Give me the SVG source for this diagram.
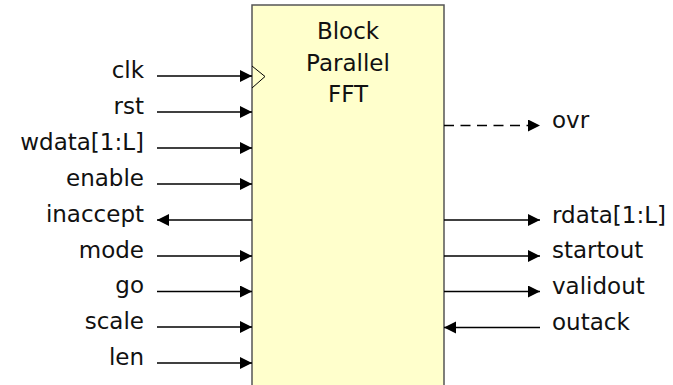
<svg xmlns="http://www.w3.org/2000/svg" width="673" height="385" viewBox="0 0 673 385">
<defs>
<style>
text{font-family:"DejaVu Sans","Liberation Sans",sans-serif;font-size:23px;fill:#111}
.l{text-anchor:end}
.c{text-anchor:middle}
.w{stroke:#000;stroke-width:1.5;fill:none}
.d{stroke-dasharray:10,6.5}
</style>
<marker id="ah" markerUnits="userSpaceOnUse" markerWidth="13" markerHeight="13" refX="12" refY="6" orient="auto">
<path d="M0,0 L12,6 L0,12 z" fill="#000"/>
</marker>
</defs>
<g id="block">
<rect x="252" y="5" width="192" height="395" fill="#FFFFCC" stroke="#555" stroke-width="1.5"/>
<polyline points="252,66 265,76.5 252,88" fill="none" stroke="#000" stroke-width="1"/>
<text class="c" x="348" y="39">Block</text>
<text class="c" x="348" y="71">Parallel</text>
<text class="c" x="348" y="102">FFT</text>
</g>
<g id="labels">
<text class="l" x="144" y="78">clk</text>
<text class="l" x="144" y="114">rst</text>
<text class="l" x="144" y="150">wdata[1:L]</text>
<text class="l" x="144" y="186">enable</text>
<text class="l" x="144" y="222">inaccept</text>
<text class="l" x="144" y="258">mode</text>
<text class="l" x="144" y="293">go</text>
<text class="l" x="144" y="329">scale</text>
<text class="l" x="144" y="365">len</text>
<text x="552" y="128">ovr</text>
<text x="552" y="223">rdata[1:L]</text>
<text x="552" y="258">startout</text>
<text x="552" y="294">validout</text>
<text x="552" y="330">outack</text>
</g>
<g id="connectors">
<line class="w" x1="157" y1="76" x2="252" y2="76" marker-end="url(#ah)"/>
<line class="w" x1="157" y1="112" x2="252" y2="112" marker-end="url(#ah)"/>
<line class="w" x1="157" y1="148" x2="252" y2="148" marker-end="url(#ah)"/>
<line class="w" x1="157" y1="184" x2="252" y2="184" marker-end="url(#ah)"/>
<line class="w" x1="252" y1="220" x2="157" y2="220" marker-end="url(#ah)"/>
<line class="w" x1="157" y1="256" x2="252" y2="256" marker-end="url(#ah)"/>
<line class="w" x1="157" y1="291.5" x2="252" y2="291.5" marker-end="url(#ah)"/>
<line class="w" x1="157" y1="327" x2="252" y2="327" marker-end="url(#ah)"/>
<line class="w" x1="157" y1="363" x2="252" y2="363" marker-end="url(#ah)"/>
<line class="w d" x1="444" y1="125.5" x2="540" y2="125.5" marker-end="url(#ah)"/>
<line class="w" x1="444" y1="220" x2="540" y2="220" marker-end="url(#ah)"/>
<line class="w" x1="444" y1="256" x2="540" y2="256" marker-end="url(#ah)"/>
<line class="w" x1="444" y1="291.5" x2="540" y2="291.5" marker-end="url(#ah)"/>
<line class="w" x1="540" y1="327.5" x2="444" y2="327.5" marker-end="url(#ah)"/>
</g>
</svg>
